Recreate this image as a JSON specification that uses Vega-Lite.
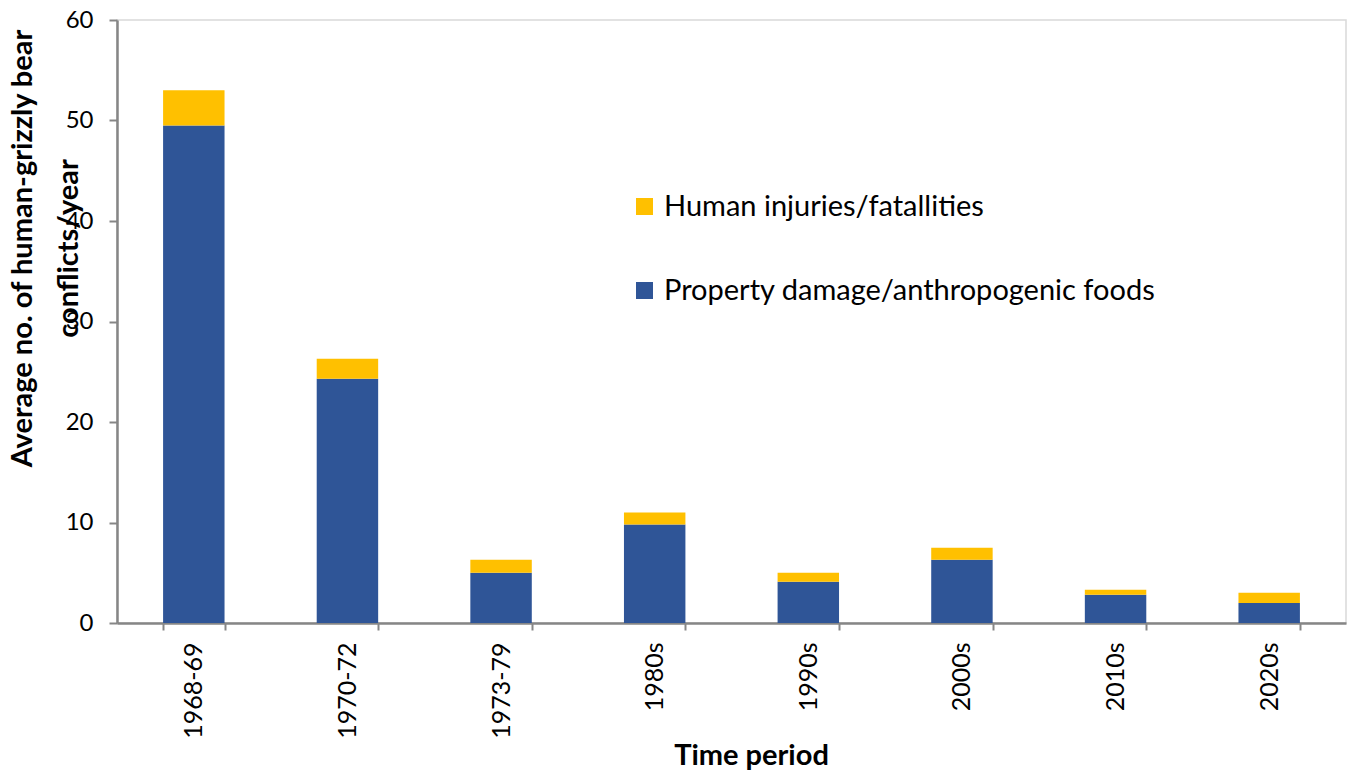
{
  "$schema": "https://vega.github.io/schema/vega-lite/v6.json",
  "width": 1229,
  "height": 603,
  "autosize": {"type": "none"},
  "padding": {"left": 117, "top": 20, "right": 10, "bottom": 153},
  "background": "white",
  "config": {
    "font": "Lato",
    "view": {"stroke": "#d9d9d9", "strokeWidth": 1.5}
  },
  "data": {
    "values": [
      {"period": "1968-69", "type": "Property damage/anthropogenic foods", "value": 49.5},
      {"period": "1968-69", "type": "Human injuries/fatallities", "value": 3.5},
      {"period": "1970-72", "type": "Property damage/anthropogenic foods", "value": 24.3},
      {"period": "1970-72", "type": "Human injuries/fatallities", "value": 2.0},
      {"period": "1973-79", "type": "Property damage/anthropogenic foods", "value": 5.0},
      {"period": "1973-79", "type": "Human injuries/fatallities", "value": 1.3},
      {"period": "1980s", "type": "Property damage/anthropogenic foods", "value": 9.8},
      {"period": "1980s", "type": "Human injuries/fatallities", "value": 1.2},
      {"period": "1990s", "type": "Property damage/anthropogenic foods", "value": 4.1},
      {"period": "1990s", "type": "Human injuries/fatallities", "value": 0.9},
      {"period": "2000s", "type": "Property damage/anthropogenic foods", "value": 6.3},
      {"period": "2000s", "type": "Human injuries/fatallities", "value": 1.2},
      {"period": "2010s", "type": "Property damage/anthropogenic foods", "value": 2.8},
      {"period": "2010s", "type": "Human injuries/fatallities", "value": 0.5},
      {"period": "2020s", "type": "Property damage/anthropogenic foods", "value": 2.0},
      {"period": "2020s", "type": "Human injuries/fatallities", "value": 1.0}
    ]
  },
  "mark": {"type": "bar"},
  "encoding": {
    "x": {
      "field": "period",
      "type": "nominal",
      "sort": null,
      "scale": {"paddingInner": 0.6, "paddingOuter": 0.3},
      "axis": {
        "title": "Time period",
        "titleFontSize": 29,
        "titleFontWeight": "bold",
        "titleColor": "#000000",
        "titleX": 634,
        "titleY": 132,
        "titleBaseline": "middle",
        "titleAlign": "center",
        "labelAngle": -90,
        "labelFontSize": 25,
        "labelColor": "#000000",
        "labelPadding": 12,
        "tickBand": "extent",
        "tickSize": 7,
        "tickWidth": 2,
        "tickColor": "#868686",
        "domainColor": "#868686",
        "domainWidth": 2.5,
        "grid": false
      }
    },
    "y": {
      "field": "value",
      "type": "quantitative",
      "stack": "zero",
      "scale": {"domain": [0, 60], "nice": false},
      "axis": {
        "title": ["Average no. of human-grizzly bear", "conflicts/year"],
        "titleFontSize": 29,
        "titleFontWeight": "bold",
        "titleColor": "#000000",
        "titleLineHeight": 46,
        "titleAngle": -90,
        "titleX": -95,
        "titleY": 228,
        "titleAlign": "center",
        "titleBaseline": "middle",
        "values": [0, 10, 20, 30, 40, 50, 60],
        "labelFontSize": 24,
        "labelColor": "#000000",
        "labelPadding": 16,
        "tickSize": 8,
        "tickWidth": 2,
        "tickColor": "#868686",
        "domainColor": "#868686",
        "domainWidth": 2.5,
        "grid": false
      }
    },
    "color": {
      "field": "type",
      "type": "nominal",
      "scale": {
        "domain": ["Human injuries/fatallities", "Property damage/anthropogenic foods"],
        "range": ["#FFC000", "#2F5597"]
      },
      "legend": {
        "title": null,
        "orient": "none",
        "legendX": 513,
        "legendY": 172,
        "symbolType": "square",
        "symbolSize": 290,
        "symbolStrokeWidth": 0,
        "labelFontSize": 29,
        "labelColor": "#000000",
        "labelOffset": 5,
        "rowPadding": 54,
        "labelLimit": 800
      }
    },
    "order": {"field": "type", "sort": "descending"}
  }
}
